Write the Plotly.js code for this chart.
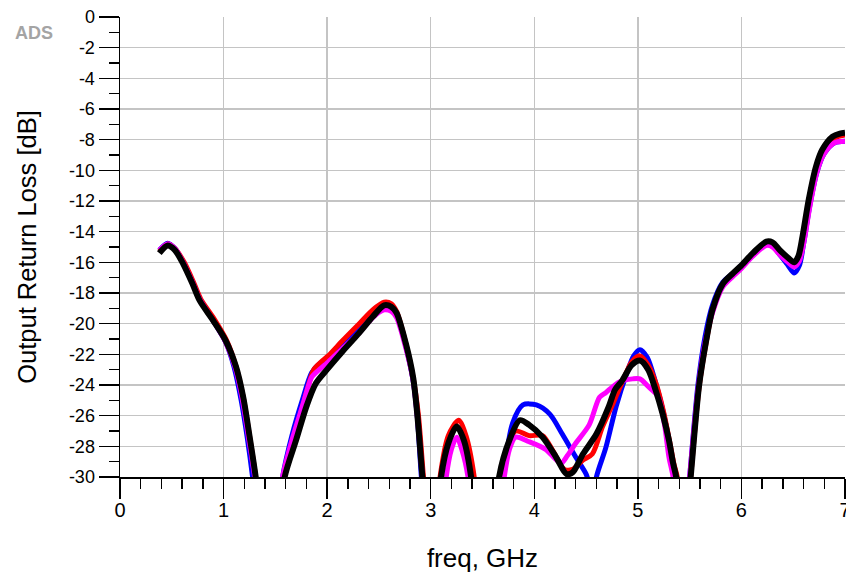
<!DOCTYPE html>
<html>
<head>
<meta charset="utf-8">
<script src="https://cdn.plot.ly/plotly-3.0.1.min.js"></script>
<style>html,body{margin:0;padding:0;background:#fff;}#chart{width:846px;height:576px;}</style>
</head>
<body>
<div id="chart"></div>
<script>
// ---- data (values below -30 are off-scale) ----
const blueX = [0.38,0.46,0.53,0.61,0.70,0.77,0.90,1.02,1.10,1.17,1.23,1.28,1.33,
  1.52,1.57,1.66,1.76,1.85,1.93,2.01,2.15,2.31,2.44,2.55,2.62,2.67,2.76,2.83,2.87,2.91,2.95,
  3.30,
  3.65,3.70,3.79,3.89,4.02,4.15,4.27,4.40,4.50,4.53,4.565,4.60,4.69,4.79,4.89,4.96,5.02,5.09,5.17,5.25,5.31,5.36,5.39,
  5.46,5.50,5.58,5.65,5.72,5.82,5.92,6.00,6.11,6.24,6.30,6.37,6.45,6.51,6.56,6.60,6.66,6.73,6.80,6.90,7.00];
const blueY = [-15.2,-14.75,-15.1,-16.0,-17.3,-18.4,-19.8,-21.2,-22.8,-25.0,-27.5,-30,-33,
  -33,-30,-27.3,-25.0,-23.2,-22.6,-22.3,-21.4,-20.3,-19.3,-18.8,-18.9,-19.4,-21.5,-23.7,-26.0,-30,-33,
  -33,
  -33,-30,-26.5,-25.3,-25.3,-25.9,-27.2,-28.7,-29.8,-30.5,-32,-30,-28.1,-25.4,-23.3,-22.1,-21.7,-22.2,-23.8,-25.9,-28.0,-30,-33,
  -33,-30,-24.0,-20.8,-18.8,-17.3,-16.7,-16.2,-15.5,-14.8,-14.9,-15.5,-16.2,-16.7,-16.2,-14.8,-12.3,-10.1,-8.9,-8.2,-8.1];

const redX = [0.38,0.46,0.53,0.62,0.71,0.78,0.91,1.03,1.12,1.19,1.25,1.31,1.36,
  1.53,1.58,1.68,1.78,1.87,1.94,2.01,2.15,2.31,2.44,2.55,2.62,2.67,2.76,2.83,2.88,2.93,2.97,
  3.05,3.09,3.17,3.27,3.34,3.42,3.46,
  3.64,3.69,3.76,3.82,3.95,4.08,4.18,4.29,4.37,4.47,4.56,4.66,4.76,4.85,4.94,5.02,5.10,5.18,5.25,5.31,5.35,5.38,5.41,
  5.47,5.51,5.59,5.66,5.72,5.82,5.92,6.00,6.11,6.24,6.30,6.37,6.45,6.51,6.56,6.60,6.66,6.73,6.80,6.90,7.00];
const redY = [-15.3,-14.8,-15.1,-16.0,-17.3,-18.4,-19.7,-21.1,-22.8,-24.8,-27.3,-30,-33,
  -33,-30,-27.4,-25.0,-23.0,-22.5,-22.1,-21.1,-20.0,-19.1,-18.6,-18.7,-19.2,-21.3,-23.5,-25.9,-30,-33,
  -33,-30,-27.3,-26.3,-27.3,-30,-33,
  -33,-30,-27.8,-27.0,-27.3,-27.3,-28.3,-29.5,-29.5,-28.9,-28.5,-26.7,-25.2,-23.8,-22.5,-22.1,-22.7,-24.0,-25.8,-27.8,-29.2,-30,-33,
  -33,-30,-24.2,-21.2,-19.2,-17.5,-16.8,-16.3,-15.5,-14.8,-14.85,-15.3,-15.9,-16.2,-15.7,-14.4,-12.0,-9.9,-8.7,-7.9,-7.7];

const magentaX = [0.38,0.46,0.53,0.61,0.70,0.77,0.90,1.02,1.11,1.18,1.24,1.30,1.35,
  1.52,1.57,1.66,1.76,1.85,1.89,2.01,2.15,2.31,2.44,2.55,2.62,2.67,2.76,2.83,2.87,2.92,2.96,
  3.11,3.15,3.20,3.25,3.30,3.36,3.40,
  3.66,3.71,3.76,3.82,3.95,4.11,4.20,4.26,4.32,4.40,4.53,4.63,4.69,4.82,4.95,5.02,5.10,5.18,5.21,5.26,5.30,5.34,5.37,
  5.46,5.50,5.58,5.65,5.72,5.82,5.92,6.00,6.11,6.24,6.30,6.37,6.45,6.51,6.56,6.60,6.66,6.73,6.80,6.90,7.00];
const magentaY = [-15.2,-14.8,-15.1,-16.0,-17.3,-18.4,-19.8,-21.2,-22.8,-24.9,-27.4,-30,-33,
  -33,-30,-27.6,-25.4,-23.5,-23.2,-22.5,-21.6,-20.6,-19.6,-19.1,-19.2,-19.6,-21.6,-23.7,-26.0,-30,-33,
  -33,-30,-28.2,-27.4,-28.2,-30,-33,
  -33,-30,-28.2,-27.4,-27.7,-28.2,-28.8,-29.1,-28.6,-27.8,-26.6,-24.8,-24.5,-23.8,-23.6,-23.6,-24.1,-24.6,-25.0,-26.7,-28.7,-30,-33,
  -33,-30,-24.3,-21.2,-19.3,-17.6,-16.9,-16.4,-15.6,-14.9,-15.0,-15.5,-16.0,-16.3,-15.9,-14.8,-12.4,-10.1,-8.9,-8.2,-8.1];

const blackX = [0.38,0.46,0.53,0.61,0.70,0.77,0.90,1.02,1.12,1.19,1.25,1.31,1.36,
  1.54,1.59,1.70,1.80,1.89,2.01,2.15,2.31,2.44,2.55,2.62,2.67,2.76,2.83,2.87,2.92,2.96,
  3.06,3.10,3.17,3.25,3.32,3.39,3.43,
  3.62,3.66,3.76,3.86,3.95,4.08,4.21,4.31,4.37,4.47,4.60,4.72,4.78,4.85,4.94,5.02,5.10,5.17,5.24,5.30,5.34,5.37,5.40,
  5.47,5.51,5.59,5.66,5.72,5.82,5.92,6.00,6.11,6.24,6.30,6.37,6.45,6.51,6.55,6.59,6.65,6.72,6.78,6.88,6.95,7.00];
const blackY = [-15.4,-14.9,-15.2,-16.1,-17.4,-18.5,-19.8,-21.1,-22.8,-24.8,-27.3,-30,-33,
  -33,-30,-27.6,-25.4,-23.9,-22.9,-21.8,-20.6,-19.55,-18.8,-18.9,-19.3,-21.3,-23.5,-25.9,-30,-33,
  -33,-30,-27.8,-26.7,-27.6,-30,-33,
  -33,-30,-27.6,-26.3,-26.6,-27.4,-28.7,-29.8,-29.7,-28.5,-27.2,-25.4,-24.3,-23.7,-22.7,-22.4,-23.0,-24.3,-25.9,-27.6,-29.1,-30,-33,
  -33,-30,-24.1,-21.1,-19.1,-17.4,-16.7,-16.2,-15.4,-14.65,-14.7,-15.2,-15.7,-16.0,-15.6,-14.3,-11.9,-9.75,-8.66,-7.8,-7.6,-7.55];

const xTickVals = [0,1,2,3,4,5,6,7];
const xTickText = ['0','1','2','3','4','5','6','7'];
const yTickVals = [0,-2,-4,-6,-8,-10,-12,-14,-16,-18,-20,-22,-24,-26,-28,-30];
const yTickText = ['0','-2','-4','-6','-8','-10','-12','-14','-16','-18','-20','-22','-24','-26','-28','-30'];

// ---- chart ----
const FONT = 'Arial, "Liberation Sans", sans-serif';
function tr(x, y, color, w) {
  return {x: x, y: y, type: 'scatter', mode: 'lines',
    line: {color: color, width: w, shape: 'spline', smoothing: 0.8},
    hoverinfo: 'skip', showlegend: false};
}
const data = [
  tr(blueX, blueY, '#0000ff', 5),
  tr(redX, redY, '#ff0000', 5),
  tr(magentaX, magentaY, '#ff00ff', 5),
  tr(blackX, blackY, '#000000', 6)
];
const gridColor = '#c4c4c4';
const layout = {
  width: 846, height: 576,
  margin: {l: 120, r: 1, t: 17, b: 99, pad: 0},
  paper_bgcolor: '#ffffff', plot_bgcolor: '#ffffff',
  font: {family: FONT, color: '#000'},
  xaxis: {
    range: [0, 7], tickmode: 'array', tickvals: xTickVals, ticktext: xTickText,
    showgrid: true, gridcolor: gridColor, gridwidth: 1.5, zeroline: false,
    showline: true, linecolor: '#000', linewidth: 1.5,
    ticks: 'outside', ticklen: 20, tickwidth: 1.5, tickcolor: '#000',
    ticklabeloverflow: 'allow', ticklabelstandoff: -6,
    minor: {tickmode: 'linear', tick0: 0, dtick: 0.2, ticks: 'outside', ticklen: 10, tickwidth: 1.5, tickcolor: '#000', showgrid: false},
    tickfont: {family: FONT, size: 20, color: '#000'},
    title: {text: 'freq, GHz', font: {family: FONT, size: 26, color: '#000'}, standoff: 29},
    automargin: false, fixedrange: true
  },
  yaxis: {
    range: [-30, 0], tickmode: 'array', tickvals: yTickVals, ticktext: yTickText,
    showgrid: true, gridcolor: gridColor, gridwidth: 1.5, zeroline: false,
    showline: true, linecolor: '#000', linewidth: 1.5,
    ticks: 'outside', ticklen: 20, tickwidth: 1.5, tickcolor: '#000',
    ticklabeloverflow: 'allow',
    minor: {tickmode: 'linear', tick0: 0, dtick: 1, ticks: 'outside', ticklen: 10, tickwidth: 1.5, tickcolor: '#000', showgrid: false},
    tickfont: {family: FONT, size: 18, color: '#000'},
    title: {text: 'Output Return Loss [dB]', font: {family: FONT, size: 25.5, color: '#000'}, standoff: 25},
    automargin: false, fixedrange: true
  },
  annotations: [{
    text: 'ADS', xref: 'paper', yref: 'paper', x: -0.118, y: 0.965,
    showarrow: false, xanchor: 'center', yanchor: 'middle',
    font: {family: FONT, size: 18, color: '#a4a4a4', weight: 'bold'}
  }]
};
Plotly.newPlot('chart', data, layout, {staticPlot: true, displayModeBar: false});
</script>
</body>
</html>
